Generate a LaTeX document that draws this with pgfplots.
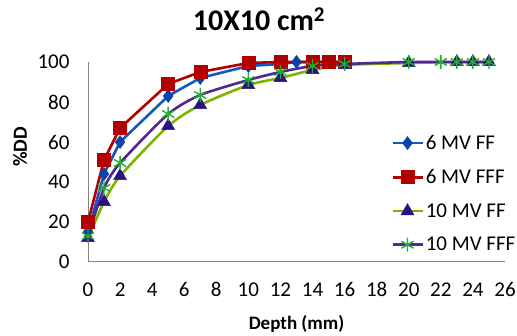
\documentclass[border=0pt]{standalone}
\usepackage{fontspec}
\setmainfont{Carlito}
\usepackage{pgfplots}
\pgfplotsset{compat=1.18}
\definecolor{lblue}{HTML}{1458C0}
\definecolor{mblue}{HTML}{0A44A8}
\definecolor{lred}{HTML}{B20000}
\definecolor{lgreen}{HTML}{7CB400}
\definecolor{tnavy}{HTML}{2B1284}
\definecolor{lpurple}{HTML}{4E2A90}
\definecolor{sgreen}{HTML}{1FB030}
\definecolor{axgray}{HTML}{868686}
\begin{document}
\begin{tikzpicture}
\useasboundingbox (0pt,0pt) rectangle (517pt,336pt);
\node[anchor=base,font=\fontsize{30}{32}\selectfont\bfseries] at (259pt,305pt) {10X10 cm\textsuperscript{2}};
\node[rotate=90,font=\fontsize{20}{22}\selectfont\bfseries] at (20pt,189pt) {\%DD};
\begin{axis}[
  at={(88pt,74pt)}, anchor=south west,
  scale only axis, width=417pt, height=200pt,
  xmin=0, xmax=26, ymin=0, ymax=100,
  xtick={0,2,...,26}, ytick={0,20,...,100},
  axis x line*=bottom, axis y line*=left,
  axis line style={axgray, line width=1pt, -},
  major tick length=0pt,
  tick label style={font=\fontsize{21}{23}\selectfont},
  /pgf/number format/assume math mode=true,
  xticklabel style={yshift=-17pt},
  yticklabel style={xshift=-15pt},
  xlabel={\bfseries Depth (mm)},
  xlabel style={font=\fontsize{19}{21}\selectfont, yshift=-12pt},
  clip=false,
  legend style={at={(303pt,129pt)}, anchor=north west, draw=none, fill=none,
    font=\fontsize{21}{23}\selectfont, row sep=14.5pt, inner sep=0pt,
    /tikz/every even column/.append style={column sep=0pt}},
  legend cell align=left,
  legend image code/.code={
    \draw[#1, mark repeat=2, mark phase=2] plot coordinates {(0pt,0pt) (15pt,0pt) (30pt,0pt)};},
]
\addplot[lblue, line width=2.6pt, mark=diamond*, mark size=6.5pt,
  mark options={fill=mblue, draw=mblue, line width=0.5pt}]
  coordinates {(0,15) (1,44) (2,60) (5,83) (7,92) (10,98) (12,99) (13,100) (14,100) (15,100) (16,100)};
\addlegendentry{6 MV FF}
\addplot[lred, line width=2.6pt, mark=square*, mark size=6.5pt,
  mark options={fill=lred, draw=lred, line width=0.5pt}]
  coordinates {(0,20) (1,51) (2,67) (5,89) (7,95) (10,99.5) (12,100) (14,100) (15,100) (16,100)};
\addlegendentry{6 MV FFF}
\addplot[lgreen, line width=2.6pt, smooth, tension=0.4, mark=triangle*, mark size=7.5pt,
  mark options={fill=tnavy, draw=tnavy, line width=0.5pt}]
  coordinates {(0,12) (1,30) (2,43) (5,68) (7,78.5) (10,88.5) (12,92) (14,96) (16,98.5) (20,99.5) (23,100) (24,100) (25,100)};
\addlegendentry{10 MV FF}
\addplot[lpurple, line width=2.6pt, smooth, tension=0.4, mark=asterisk, mark size=7pt,
  mark options={draw=sgreen, line width=1.4pt}]
  coordinates {(0,13) (1,37) (2,49.5) (5,74) (7,83.5) (10,91) (12,95) (14,98) (16,99) (20,100) (22,100) (23,100) (24,100) (25,100)};
\addlegendentry{10 MV FFF}
\end{axis}
\end{tikzpicture}
\end{document}
